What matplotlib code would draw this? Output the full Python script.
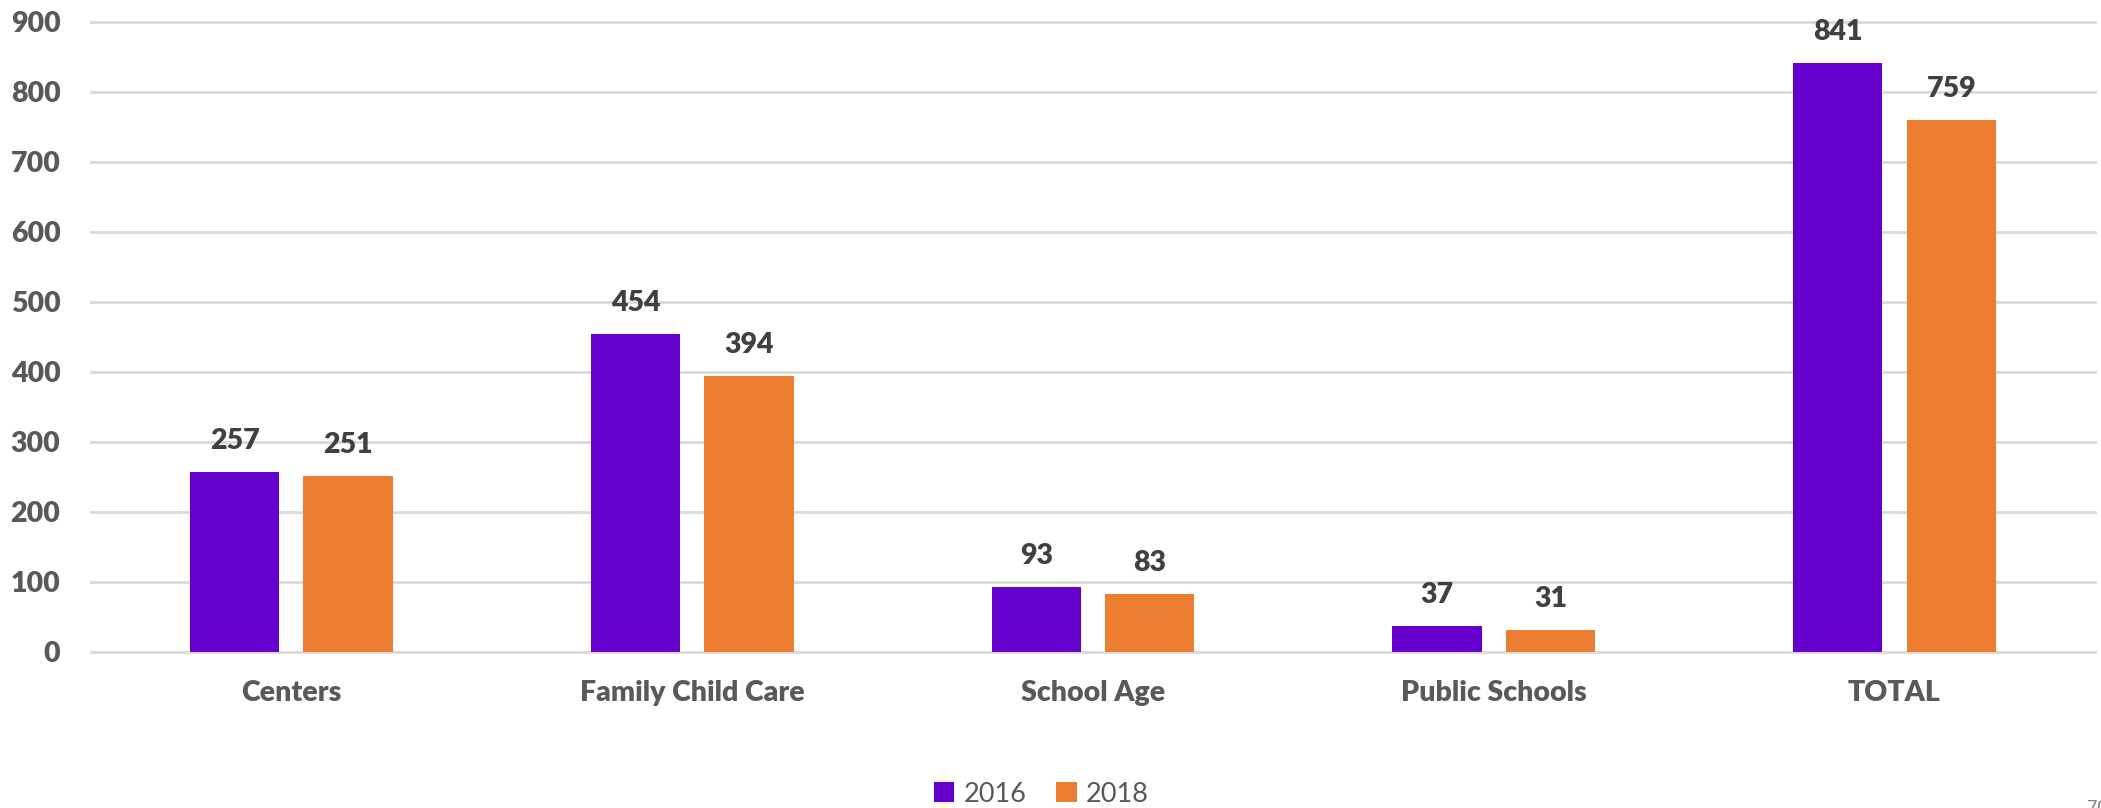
import numpy as np
import matplotlib
matplotlib.use("Agg")
import matplotlib.pyplot as plt

# data
categories = ["Centers", "Family Child Care", "School Age", "Public Schools", "TOTAL"]
vals_2016 = [257, 454, 93, 37, 841]
vals_2018 = [251, 394, 83, 31, 759]
yticks = [0, 100, 200, 300, 400, 500, 600, 700, 800, 900]

purple = "#6600CC"
orange = "#ED7D31"
label_col = "#595959"

plt.rcParams["font.family"] = ["Lato", "DejaVu Sans"]

fig = plt.figure(figsize=(21.01, 8.08), dpi=100)
ax = fig.add_axes([0.0433, 0.1934, 0.9538, 0.7797])

x = np.arange(len(categories))
w = 0.223
off = 0.1416
b1 = ax.bar(x - off, vals_2016, w, color=purple, label="2016")
b2 = ax.bar(x + off, vals_2018, w, color=orange, label="2018")

for bars in (b1, b2):
    ax.bar_label(bars, padding=13, fontsize=20.5, fontweight="heavy", color="#404040")

ax.set_xlim(-0.5, len(categories) - 0.5)
ax.set_ylim(0, 900)
ax.set_yticks(yticks)
ax.set_xticks(x)
ax.set_xticklabels(categories)

ax.tick_params(axis="both", length=0, labelsize=20.5, labelcolor=label_col)
ax.tick_params(axis="x", pad=20)
ax.tick_params(axis="y", pad=22)
for lab in ax.get_xticklabels() + ax.get_yticklabels():
    lab.set_fontweight("heavy")

ax.yaxis.grid(True, color="#D9D9D9", linewidth=2)
ax.set_axisbelow(True)
for gl in ax.get_ygridlines():
    gl.set_clip_on(False)
for s in ax.spines.values():
    s.set_visible(False)

fig.legend(handles=[b1, b2], labels=["2016", "2018"], loc="center",
           bbox_to_anchor=(0.4957, 0.017), ncol=2, frameon=False,
           fontsize=19.5, labelcolor=label_col, handlelength=0.75,
           handleheight=0.75, handletextpad=0.35, columnspacing=1.1)

# page number, cut off at the right edge as in the original slide
fig.text(2087 / 2101, 0.0, "70", fontsize=13, color="#7F7F7F", ha="left", va="center")

fig.savefig("out.png", dpi=100)
